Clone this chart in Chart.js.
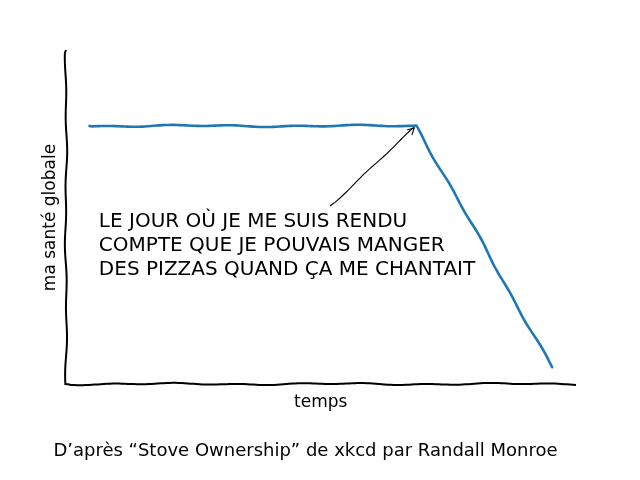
<!DOCTYPE html>
<html>
<head>
<meta charset="utf-8">
<script src="https://cdn.jsdelivr.net/npm/chart.js@4/dist/chart.umd.min.js"></script>
<style>
  html, body { margin: 0; padding: 0; background: #fff; }
  #wrap { width: 640px; height: 480px; }
</style>
</head>
<body>
<div id="wrap"><canvas id="healthChart"></canvas></div>
<script>
// data
const timeValues = [0, 10, 20, 30, 40, 50, 60, 70, 75, 80, 85, 90, 95, 99];
const healthValues = [1, 1, 1, 1, 1, 1, 1, 1, -4, -9, -14, -19, -24, -28];
const xRange = [-4.95, 103.95];
const yRange = [-30, 10];
const noteAnchor = [70, 1];
const notePosition = [2, -13.4];
const noteLines = [
    'LE JOUR OÙ JE ME SUIS RENDU',
    'COMPTE QUE JE POUVAIS MANGER',
    'DES PIZZAS QUAND ÇA ME CHANTAIT'
];
const xTitle = 'temps';
const yTitle = 'ma santé globale';
const footerText = 'D\u2019après \u201cStove Ownership\u201d de xkcd par Randall Monroe';

const FONT = '"Humor Sans", "Comic Sans MS", "DejaVu Sans", sans-serif';

// hand drawn wobble for every stroked line
let wobAmp = 1;
function wob(d) {
    return wobAmp * (0.6 * Math.sin(d / 10) + 0.6 * Math.sin(d / 27 + 1));
}

function patchCtx(ctx) {
    const origMove = ctx.moveTo;
    const origLine = ctx.lineTo;
    let cx = 0, cy = 0, dist = 0;
    ctx.moveTo = function(x, y) {
        cx = x; cy = y;
        origMove.call(ctx, x, y);
    };
    ctx.lineTo = function(x, y) {
        const dx = x - cx, dy = y - cy;
        const len = Math.hypot(dx, dy) || 1;
        const n = Math.max(1, Math.ceil(len / 3));
        const nx = -dy / len, ny = dx / len;
        for (let i = 1; i <= n; i++) {
            const t = i / n;
            const off = wob(dist + len * t) * Math.min(1, (dist + len * t) / 6);
            origLine.call(ctx, cx + dx * t + nx * off, cy + dy * t + ny * off);
        }
        dist += len; cx = x; cy = y;
    };
}

function unpatchCtx(ctx) {
    delete ctx.moveTo;
    delete ctx.lineTo;
}

const xkcdPlugin = {
    id: 'xkcd',
    beforeDraw(chart) { patchCtx(chart.ctx); },
    afterDatasetsDraw(chart) {
        const ctx = chart.ctx;
        const xs = chart.scales.x, ys = chart.scales.y;
        const ax = xs.getPixelForValue(noteAnchor[0]);
        const ay = ys.getPixelForValue(noteAnchor[1]);
        const tx = xs.getPixelForValue(notePosition[0]);
        const tcy = ys.getPixelForValue(notePosition[1]);
        const lineH = 24;

        ctx.save();
        ctx.font = '20px ' + FONT;
        ctx.fillStyle = '#000';
        ctx.textAlign = 'left';
        ctx.textBaseline = 'middle';
        let maxW = 0;
        noteLines.forEach((s, i) => {
            const y = tcy + (i - (noteLines.length - 1) / 2) * lineH;
            ctx.fillText(s, tx, y);
            maxW = Math.max(maxW, ctx.measureText(s).width);
        });

        // arrow from text box edge to the anchor
        const top = tcy - noteLines.length * lineH / 2 - 4;
        const cxm = tx + maxW / 2;
        const t = (top - tcy) / (ay - tcy);
        const sx = cxm + (ax - cxm) * t;
        const sy = top;
        const ang = Math.atan2(ay - sy, ax - sx);
        const ex = ax - 3 * Math.cos(ang), ey = ay - 3 * Math.sin(ang);
        ctx.strokeStyle = '#000';
        ctx.lineWidth = 1.1;
        ctx.lineCap = 'round';
        unpatchCtx(ctx);
        wobAmp = 0.8;
        patchCtx(ctx);
        ctx.beginPath();
        ctx.moveTo(sx, sy);
        ctx.lineTo(ex, ey);
        ctx.stroke();
        unpatchCtx(ctx);
        ctx.beginPath();
        ctx.moveTo(ex - 7 * Math.cos(ang - 0.5), ey - 7 * Math.sin(ang - 0.5));
        ctx.lineTo(ex, ey);
        ctx.lineTo(ex - 7 * Math.cos(ang + 0.5), ey - 7 * Math.sin(ang + 0.5));
        ctx.stroke();
        wobAmp = 1;
        patchCtx(ctx);
        ctx.restore();
    },
    afterDraw(chart) { unpatchCtx(chart.ctx); }
};

const points = timeValues.map((x, i) => ({ x: x, y: healthValues[i] }));

new Chart(document.getElementById('healthChart'), {
    type: 'line',
    data: {
        datasets: [{
            data: points,
            borderColor: '#1f77b4',
            borderWidth: 2.6,
            borderCapStyle: 'round',
            borderJoinStyle: 'round',
            pointRadius: 0,
            tension: 0,
            segment: {}
        }]
    },
    options: {
        responsive: true,
        maintainAspectRatio: false,
        animation: false,
        layout: { padding: { left: 36, right: 65, top: 51, bottom: 8 } },
        scales: {
            x: {
                type: 'linear',
                min: xRange[0],
                max: xRange[1],
                ticks: { display: false },
                grid: { display: false },
                border: { display: true, color: '#000', width: 2 },
                title: {
                    display: true,
                    text: xTitle,
                    color: '#000',
                    font: { family: FONT, size: 17 },
                    padding: { top: 0, bottom: 18 }
                }
            },
            y: {
                type: 'linear',
                min: yRange[0],
                max: yRange[1],
                ticks: { display: false },
                grid: { display: false },
                border: { display: true, color: '#000', width: 2 },
                title: {
                    display: true,
                    text: yTitle,
                    color: '#000',
                    font: { family: FONT, size: 17 },
                    padding: { top: 4, bottom: -2 }
                }
            }
        },
        plugins: {
            legend: { display: false },
            tooltip: { enabled: false },
            title: {
                display: true,
                position: 'bottom',
                text: footerText,
                color: '#000',
                font: { family: FONT, size: 18, weight: 'normal' },
                padding: 10
            }
        }
    },
    plugins: [xkcdPlugin]
});
</script>
</body>
</html>
